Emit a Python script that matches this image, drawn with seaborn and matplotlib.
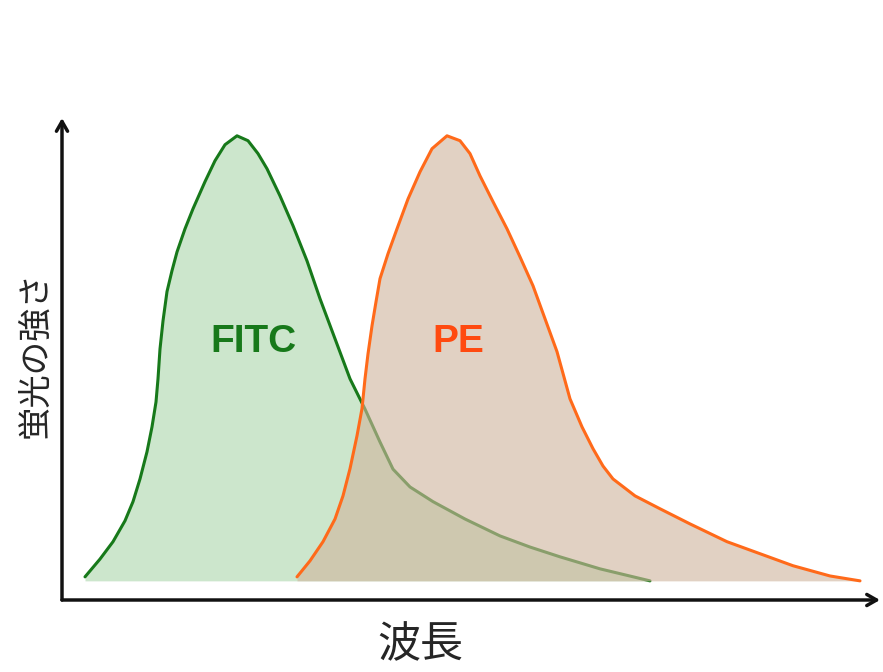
import numpy as np
import matplotlib
matplotlib.use('Agg')
import matplotlib.pyplot as plt
import seaborn as sns

# Spectra (x: wavelength, arbitrary units; y: intensity, peak = 1)
fitc_x = [85, 100, 113, 125, 133, 140, 147, 152, 156, 158, 160, 163, 167, 172, 177, 185, 193, 205, 215, 225,
          237, 248, 258, 267, 280, 293, 307, 320, 335, 350, 365, 380, 393, 410, 433, 465, 500, 530, 560, 600, 650]
fitc_y = [0.009, 0.049, 0.088, 0.135, 0.178, 0.229, 0.290, 0.346, 0.402, 0.454, 0.521, 0.584, 0.650, 0.697,
          0.739, 0.791, 0.836, 0.897, 0.944, 0.980, 1.000, 0.989, 0.960, 0.926, 0.865, 0.798, 0.719, 0.634,
          0.544, 0.454, 0.386, 0.312, 0.251, 0.211, 0.178, 0.139, 0.101, 0.076, 0.054, 0.027, 0.0]
pe_x = [297, 310, 323, 335, 343, 350, 357, 362, 365, 368, 372, 376, 380, 388, 397, 408, 420, 432, 447, 460,
        470, 480, 493, 507, 520, 533, 545, 557, 570, 582, 593, 603, 613, 635, 660, 690, 727, 760, 793, 830, 860]
pe_y = [0.009, 0.045, 0.088, 0.139, 0.191, 0.252, 0.326, 0.387, 0.454, 0.510, 0.573, 0.627, 0.679, 0.735,
        0.791, 0.858, 0.919, 0.971, 1.000, 0.989, 0.960, 0.910, 0.852, 0.791, 0.728, 0.663, 0.589, 0.515,
        0.409, 0.346, 0.297, 0.258, 0.229, 0.191, 0.162, 0.128, 0.088, 0.061, 0.034, 0.011, 0.0]

labels = ['FITC', 'PE']
label_x = [253, 458]
label_y = 0.536

sns.set_style('white')
plt.rcParams['font.family'] = ['Noto Sans CJK JP', 'DejaVu Sans']

fig = plt.figure(figsize=(8.83, 6.72), dpi=100)
ax = fig.add_axes([62 / 883, 72 / 672, 818 / 883, 482 / 672])

# FITC
ax.fill_between(fitc_x, fitc_y, 0, color='#cce6cc', lw=0, zorder=1)
sns.lineplot(x=fitc_x, y=fitc_y, sort=False, color='#17791a', lw=2.2, ax=ax, zorder=2)
# PE
ax.fill_between(pe_x, pe_y, 0, color='#d0b69e', alpha=0.62, lw=0, zorder=3)
sns.lineplot(x=pe_x, y=pe_y, sort=False, color='#ff6a1a', lw=2.2, ax=ax, zorder=4)

ax.text(label_x[0], label_y, labels[0], color='#17791a', fontsize=28, fontweight='bold',
        family='Liberation Sans', ha='center', va='center', zorder=5)
ax.text(label_x[1], label_y, labels[1], color='#ff4a10', fontsize=28, fontweight='bold',
        family='Liberation Sans', ha='center', va='center', zorder=5)

ax.set_xlim(62, 880)
ax.set_ylim(-0.043, 1.04)
for s in ax.spines.values():
    s.set_visible(False)
ax.set_xticks([])
ax.set_yticks([])

# axis arrows
arrow = dict(arrowstyle='->, head_length=0.7, head_width=0.4', lw=2.5, color='#111111', shrinkA=0, shrinkB=0)
ax.annotate('', xy=(1, 0), xytext=(0, 0), xycoords='axes fraction', arrowprops=arrow)
ax.annotate('', xy=(0, 1), xytext=(0, 0), xycoords='axes fraction', arrowprops=arrow)

fig.text(35 / 883, 1 - 355 / 672, '蛍光の強さ', rotation=90, fontsize=24, ha='center', va='center')
fig.text(420 / 883, 1 - 645 / 672, '波長', fontsize=31, ha='center', va='center')

fig.savefig('out.png', dpi=100)
